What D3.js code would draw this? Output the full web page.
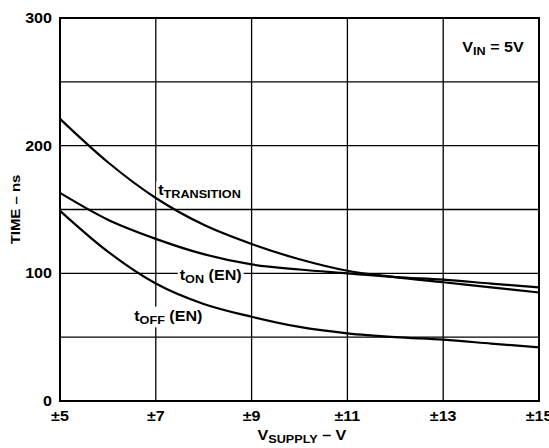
<!DOCTYPE html>
<html>
<head>
<meta charset="utf-8">
<script src="https://cdn.jsdelivr.net/npm/d3@7"></script>
<style>
  body { margin: 0; background: #fff; }
  text { font-family: "Liberation Sans", Arial, Helvetica, sans-serif; font-weight: bold; fill: #000; }
</style>
</head>
<body>
<div id="chart"></div>
<script>
const supply = [5, 6, 7, 8, 9, 10, 11, 12, 13, 14, 15];
const tTransition = [221, 187, 159, 138, 123, 111, 102, 97, 93, 89, 85];
const tOn = [163, 142, 127, 115, 107, 103, 100, 97, 95, 92, 89];
const tOff = [149, 117, 92, 76, 66, 58, 53, 50, 48, 45, 42];
const xTicks = [5, 7, 9, 11, 13, 15];
const yTicks = [0, 100, 200, 300];
const yGrid = [50, 100, 150, 200, 250];

const W = 549, H = 448;
const margin = { top: 18, right: 10, bottom: 47, left: 60 };
const width = W - margin.left - margin.right;
const height = H - margin.top - margin.bottom;
const sx = 1.15; // reference font is a bit wider than Arial

const svg = d3.select("#chart").append("svg")
  .attr("width", W)
  .attr("height", H);

const g = svg.append("g")
  .attr("transform", `translate(${margin.left},${margin.top})`);

const x = d3.scaleLinear().domain([5, 15]).range([0, width]);
const y = d3.scaleLinear().domain([0, 300]).range([height, 0]);

// grid
g.selectAll(".vgrid")
  .data(xTicks.slice(1, -1))
  .enter().append("line")
  .attr("x1", d => x(d)).attr("x2", d => x(d))
  .attr("y1", 0).attr("y2", height)
  .attr("stroke", "#000").attr("stroke-width", 1.3);

g.selectAll(".hgrid")
  .data(yGrid)
  .enter().append("line")
  .attr("x1", 0).attr("x2", width)
  .attr("y1", d => y(d)).attr("y2", d => y(d))
  .attr("stroke", "#000").attr("stroke-width", 1.3);

function stretched(parent, px, py, anchor) {
  return parent.append("g")
    .attr("transform", `translate(${px},${py}) scale(${sx},1)`)
    .append("text")
    .attr("text-anchor", anchor || "start");
}

const labels = [
  { main: "t", sub: "TRANSITION", tail: "", v: 7.05, t: 161 },
  { main: "t", sub: "ON", tail: " (EN)", v: 7.5, t: 95 },
  { main: "t", sub: "OFF", tail: " (EN)", v: 6.55, t: 63 }
];

const labelLayer = g.append("g");
labels.forEach(l => {
  const grp = labelLayer.append("g");
  const txt = stretched(grp, x(l.v), y(l.t), "start");
  txt.append("tspan").attr("font-size", 14).text(l.main);
  txt.append("tspan").attr("font-size", 11).attr("dy", 3).text(l.sub);
  if (l.tail) txt.append("tspan").attr("font-size", 14).attr("dy", -3).text(l.tail);
  l.node = grp;
});

// white boxes behind curve labels break the grid like the original
const bgLayer = g.insert("g", () => labelLayer.node());
labels.forEach(l => {
  const bb = l.node.node().getBBox();
  bgLayer.append("rect")
    .attr("x", bb.x - 2).attr("y", bb.y - 1)
    .attr("width", bb.width + 4).attr("height", bb.height + 2)
    .attr("fill", "#fff");
});

// curves
const line = d3.line()
  .x((d, i) => x(supply[i]))
  .y(d => y(d))
  .curve(d3.curveMonotoneX);

[tTransition, tOn, tOff].forEach(series => {
  g.insert("path", () => labelLayer.node())
    .datum(series)
    .attr("d", line)
    .attr("fill", "none")
    .attr("stroke", "#000")
    .attr("stroke-width", 2.2);
});

// frame
g.append("rect")
  .attr("x", 0).attr("y", 0)
  .attr("width", width).attr("height", height)
  .attr("fill", "none")
  .attr("stroke", "#000")
  .attr("stroke-width", 2);

// tick labels
xTicks.forEach(v => {
  stretched(g, x(v), height + 20, "middle")
    .attr("font-size", 14)
    .text("±" + v);
});
yTicks.forEach(v => {
  stretched(g, -8, y(v), "end")
    .attr("font-size", 14)
    .attr("dy", "0.36em")
    .text(v);
});

// axis titles
const xt = stretched(g, x(10) - 42, height + 39, "start");
xt.append("tspan").attr("font-size", 14).text("V");
xt.append("tspan").attr("font-size", 11).attr("dy", 3).text("SUPPLY");
xt.append("tspan").attr("font-size", 14).attr("dy", -3).text(" – V");

svg.append("g")
  .attr("transform", `translate(20,${margin.top + y(150)}) rotate(-90) scale(${sx},1)`)
  .append("text")
  .attr("text-anchor", "middle")
  .attr("font-size", 13)
  .text("TIME – ns");

const vin = stretched(g, x(13.4), y(273), "start");
vin.append("tspan").attr("font-size", 14).text("V");
vin.append("tspan").attr("font-size", 11).attr("dy", 3).text("IN");
vin.append("tspan").attr("font-size", 14).attr("dy", -3).text(" = 5V");
</script>
</body>
</html>
